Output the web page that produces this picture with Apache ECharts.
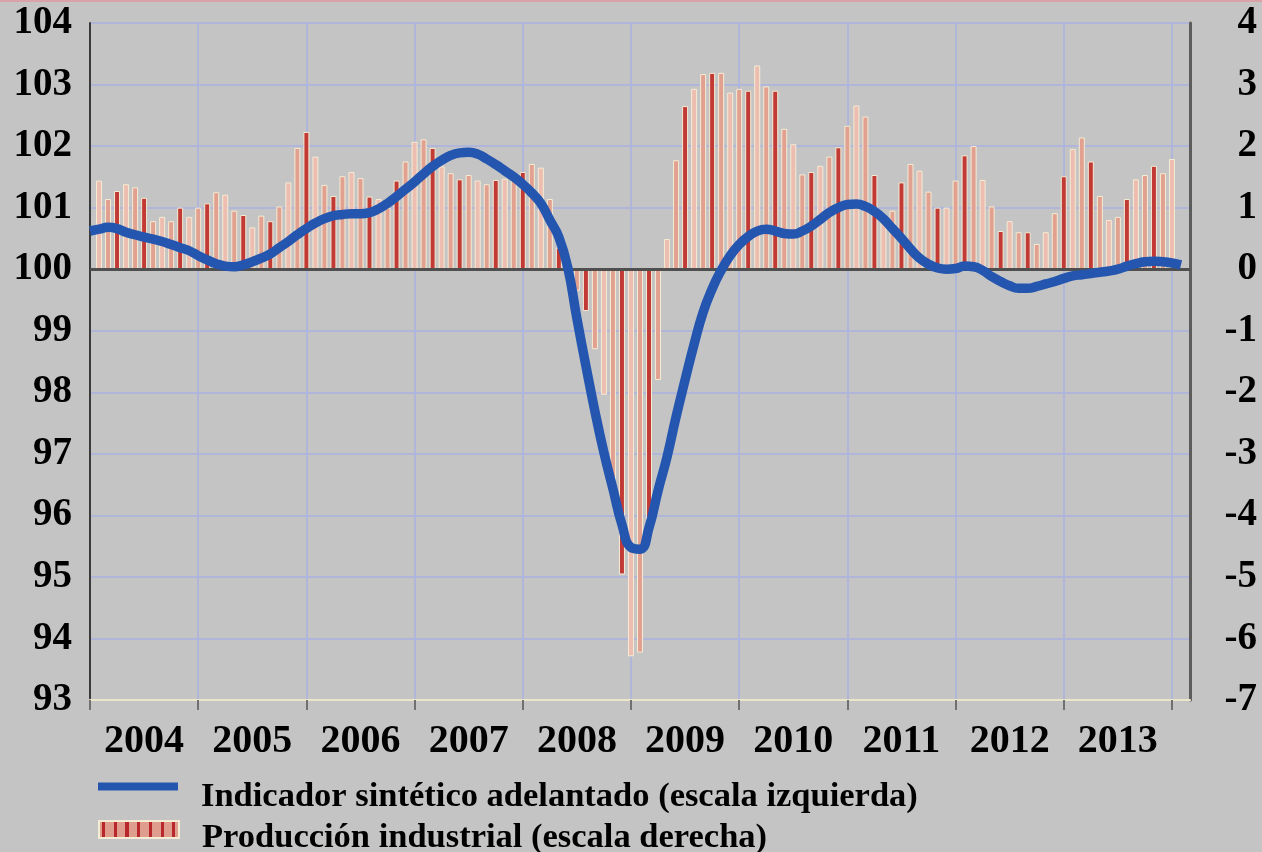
<!DOCTYPE html>
<html>
<head>
<meta charset="utf-8">
<title>Indicador sintético adelantado</title>
<script src="https://cdn.jsdelivr.net/npm/echarts@6/dist/echarts.min.js"></script>
<style>
  html, body { margin: 0; padding: 0; background: #c4c4c4; }
  #chart { width: 1262px; height: 852px; }
</style>
</head>
<body>
<div id="chart"></div>
<script>
'use strict'

/*-----data-----*/
var years = ['2004', '2005', '2006', '2007', '2008', '2009', '2010', '2011', '2012', '2013', '2014'];

// monthly categories, Jan 2004 .. Mar 2014
var months = [];
years.forEach(function (y) {
  for (var m = 1; m <= 12; m++) {
    months.push(y + '-' + (m < 10 ? '0' + m : m));
  }
});
months = months.slice(0, 123);

// Indicador sintético adelantado (escala izquierda)
var indicador = [
  100.62, 100.65, 100.68, 100.66, 100.60, 100.56, 100.52, 100.49, 100.45, 100.40, 100.35, 100.30,
  100.22, 100.15, 100.09, 100.05, 100.04, 100.07, 100.12, 100.18, 100.25, 100.35, 100.45, 100.56,
  100.66, 100.75, 100.82, 100.87, 100.89, 100.90, 100.90, 100.92, 100.98, 101.07, 101.18, 101.30,
  101.42, 101.55, 101.67, 101.77, 101.85, 101.89, 101.90, 101.87, 101.79, 101.70, 101.60, 101.50,
  101.38, 101.24, 101.07, 100.80, 100.52, 100.02, 99.20, 98.43, 97.69, 97.02, 96.43, 95.85,
  95.48, 95.45, 95.80, 96.40, 96.95, 97.60, 98.20, 98.78, 99.30, 99.68, 99.98, 100.22,
  100.40, 100.53, 100.62, 100.65, 100.62, 100.58, 100.57, 100.62, 100.70, 100.81, 100.92, 101.00,
  101.05, 101.06, 101.02, 100.94, 100.82, 100.66, 100.50, 100.33, 100.18, 100.08, 100.02, 100.00,
  100.01, 100.05, 100.04, 99.98, 99.88, 99.80, 99.73, 99.69, 99.69, 99.72, 99.76, 99.80,
  99.85, 99.89, 99.91, 99.93, 99.95, 99.97, 100.00, 100.05, 100.09, 100.12, 100.13, 100.12,
  100.10, 100.07, null
];

// Producción industrial (escala derecha)
var produccion = [
  null, 1.44, 1.14, 1.27, 1.38, 1.33, 1.16, 0.78, 0.85, 0.78, 1.00, 0.85,
  1.00, 1.07, 1.25, 1.21, 0.95, 0.88, 0.68, 0.87, 0.78, 1.02, 1.41, 1.97,
  2.23, 1.83, 1.37, 1.19, 1.51, 1.58, 1.48, 1.18, 1.14, 1.00, 1.44, 1.75,
  2.07, 2.11, 1.97, 1.67, 1.56, 1.46, 1.53, 1.44, 1.38, 1.45, 1.47, 1.50,
  1.58, 1.71, 1.65, 1.14, 0.35, 0.10, -0.35, -0.68, -1.30, -2.04, -3.50, -4.96,
  -6.29, -6.23, -4.10, -1.80, 0.49, 1.77, 2.65, 2.93, 3.17, 3.19, 3.19, 2.87,
  2.93, 2.90, 3.31, 2.97, 2.90, 2.28, 2.03, 1.54, 1.58, 1.68, 1.83, 1.98,
  2.33, 2.66, 2.48, 1.53, 0.85, 0.95, 1.41, 1.71, 1.60, 1.26, 1.00, 1.00,
  1.44, 1.85, 2.00, 1.45, 1.02, 0.62, 0.78, 0.60, 0.60, 0.41, 0.60, 0.91,
  1.51, 1.95, 2.14, 1.75, 1.19, 0.80, 0.85, 1.14, 1.46, 1.53, 1.68, 1.56,
  1.79, null, null
];

var nameLine = 'Indicador sintético adelantado (escala izquierda)';
var nameBar = 'Producción industrial (escala derecha)';

/*-----styles-----*/
var serif = "'Liberation Serif', 'Times New Roman', serif";
var gridColor = '#aab2e2';
var blue = '#2456b0';

function barColor(p) {
  var r = p.dataIndex % 7;
  if (r === 3 || r === 6) return '#c23a36';
  if (r === 1 || r === 4) return '#ecbdb0';
  return '#e2a090';
}

// striped swatch for the legend
var stripes = [{ offset: 0, color: '#df9d8d' }];
for (var i = 0; i < 7; i++) {
  var a = (i * 11.4 + 4) / 80, b = (i * 11.4 + 7) / 80;
  stripes.push({ offset: a, color: '#df9d8d' }, { offset: a, color: '#b8282a' },
               { offset: b, color: '#b8282a' }, { offset: b, color: '#df9d8d' });
}
stripes.push({ offset: 1, color: '#df9d8d' });

var legendText = { fontFamily: serif, fontWeight: 'bold', fontSize: 34.5, color: '#000', padding: [0, 0, 0, 18] };

// icons sit a little above the text, as in the original
var lineIcon = 'path://M0,0h80v0.01h-80z M0,2.5h80v8h-80z M0,35h80v0.01h-80z';
var barIcon = 'path://M0,0h80v17h-80z M0,35h80v0.01h-80z';

/*-----chart-----*/
var chart = echarts.init(document.getElementById('chart'));

var option = {
  backgroundColor: '#c4c4c4',
  animation: false,
  graphic: [{
    type: 'rect', left: 0, top: 0, silent: true,
    shape: { width: 1262, height: 2 },
    style: { fill: '#d9a2a8' }
  }],
  grid: { left: 90, right: 72, top: 23, bottom: 152 },
  legend: [
    {
      left: 93,
      top: 775,
      itemWidth: 80,
      itemHeight: 35,
      textStyle: legendText,
      data: [{ name: nameLine, icon: lineIcon, itemStyle: { color: blue } }]
    },
    {
      left: 93,
      top: 815,
      itemWidth: 80,
      itemHeight: 35,
      textStyle: legendText,
      data: [{
        name: nameBar,
        icon: barIcon,
        itemStyle: { color: { type: 'linear', x: 0, y: 0, x2: 1, y2: 0, colorStops: stripes } }
      }]
    }
  ],
  xAxis: {
    type: 'category',
    data: months,
    boundaryGap: false,
    axisLine: { onZero: false, lineStyle: { color: '#ebe6c9', width: 2 } },
    axisTick: {
      interval: function (idx) { return idx % 12 === 0; },
      length: 10,
      lineStyle: { color: '#707070', width: 2 }
    },
    axisLabel: {
      interval: function (idx) { return idx % 12 === 6; },
      formatter: function (v) { return v.slice(0, 4); },
      margin: 22,
      fontFamily: serif,
      fontWeight: 'bold',
      fontSize: 40,
      color: '#000'
    },
    splitLine: {
      show: true,
      interval: function (idx) { return idx % 12 === 0; },
      lineStyle: { color: gridColor, width: 1.5 }
    }
  },
  yAxis: [
    {
      type: 'value',
      min: 93,
      max: 104,
      interval: 1,
      axisLine: { show: true, lineStyle: { color: '#3a3a3a', width: 2 } },
      axisTick: { show: false },
      axisLabel: { margin: 18, fontFamily: serif, fontWeight: 'bold', fontSize: 39, color: '#000' },
      splitLine: { lineStyle: { color: gridColor, width: 1.5 } }
    },
    {
      type: 'value',
      position: 'right',
      min: -7,
      max: 4,
      interval: 1,
      axisLine: { show: true, lineStyle: { color: '#5c5c5c', width: 3 } },
      axisTick: { show: false },
      axisLabel: { margin: 67, align: 'right', fontFamily: serif, fontWeight: 'bold', fontSize: 39, color: '#000' },
      splitLine: { show: false }
    }
  ],
  series: [
    {
      name: nameBar,
      type: 'bar',
      yAxisIndex: 1,
      data: produccion,
      barWidth: 6,
      itemStyle: { color: barColor, borderColor: '#f4ecd4', borderWidth: 1 },
      markLine: {
        silent: true,
        symbol: 'none',
        label: { show: false },
        lineStyle: { color: '#4f4f4f', width: 3, type: 'solid' },
        data: [{ yAxis: 0 }]
      }
    },
    {
      name: nameLine,
      type: 'line',
      yAxisIndex: 0,
      data: indicador,
      smooth: true,
      symbol: 'none',
      lineStyle: { color: blue, width: 9.5 },
      itemStyle: { color: blue },
      z: 5
    }
  ]
};
chart.setOption(option);
</script>
</body>
</html>
